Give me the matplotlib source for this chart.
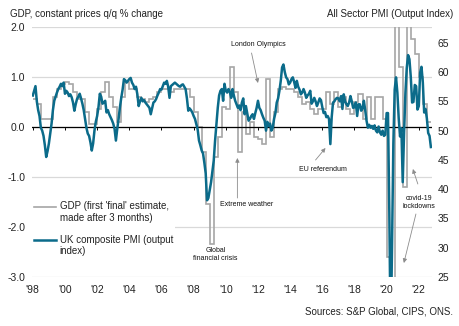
import numpy as np
import matplotlib
matplotlib.use("Agg")
import matplotlib.pyplot as plt

plt.rcParams['font.family'] = ['Liberation Sans', 'DejaVu Sans']

# UK GDP q/q % change, first 'final' estimate, quarterly from 1998 Q1
gdp = [0.55, 0.45, 0.15, 0.15,
       0.15, 0.6, 0.75, 0.85,
       0.9, 0.85, 0.7, 0.55,
       0.55, 0.3, 0.05, 0.05,
       0.35, 0.7, 0.9, 0.6,
       0.4, 0.1, 0.6, 0.9,
       0.75, 0.75, 0.6, 0.55,
       0.5, 0.55, 0.6, 0.7,
       0.75, 0.75, 0.7, 0.75,
       0.75, 0.75, 0.75, 0.6,
       0.3, 0.0, -0.5, -1.55,
       -2.35, -0.6, -0.2, 0.4,
       0.35, 1.2, 0.7, -0.5,
       0.3, -0.15, 0.1, -0.2,
       -0.25, -0.35, 0.95, -0.2,
       0.3, 0.75, 0.8, 0.75,
       0.75, 0.7, 0.6, 0.45,
       0.5, 0.35, 0.25, 0.35,
       0.35, 0.7, 0.45, 0.7,
       0.4, 0.6, 0.35, 0.25,
       0.5, 0.65, 0.15, 0.6,
       0.15, 0.6, 0.6, 0.15,
       -2.6, -20.0, 15.5, 1.2,
       -1.2, 4.8, 1.75, 1.45,
       1.0, 0.45, 0.1]

# UK composite PMI output index, monthly from Jan 1998
pmi = [56.0, 56.8, 57.6, 55.0, 53.5, 52.5, 50.5, 50.0, 49.1, 47.5, 45.5, 46.5,
       47.8, 49.5, 51.2, 53.5, 55.1, 55.8, 56.5, 57.1, 57.5, 58.0, 57.6, 58.2,
       56.3, 56.8, 56.5, 55.9, 56.2, 55.7, 54.8, 53.4, 54.5, 55.4, 55.8, 56.3,
       55.5, 54.6, 53.5, 52.0, 50.5, 49.5, 49.1, 48.0, 46.6, 47.8, 50.0, 51.5,
       52.5, 54.0, 56.3, 55.8, 54.6, 54.8, 55.1, 53.1, 53.5, 52.8, 52.3, 51.8,
       51.2, 50.3, 48.3, 50.3, 52.0, 54.0, 55.6, 57.0, 58.8, 58.6, 58.2, 58.5,
       58.8, 59.0, 58.2, 57.8, 57.1, 57.5, 56.2, 54.2, 55.0, 55.6, 55.0, 55.2,
       54.8, 54.5, 54.2, 53.9, 52.8, 53.8, 54.8, 55.0, 55.4, 56.0, 56.5, 57.1,
       57.0, 57.6, 58.2, 58.0, 58.5, 57.5, 55.6, 57.6, 57.8, 58.0, 58.2, 58.0,
       57.8, 57.6, 57.5, 57.8, 57.9, 57.5, 57.1, 55.5, 53.4, 53.8, 53.5, 53.1,
       52.5, 52.0, 51.1, 50.2, 48.3, 47.5, 46.6, 46.1, 44.5, 42.7, 38.1, 38.5,
       39.8, 41.2, 43.0, 44.9, 48.3, 51.1, 53.9, 56.0, 56.8, 57.1, 55.1, 58.0,
       56.8, 56.5, 57.1, 56.6, 55.6, 57.1, 56.0, 55.1, 54.5, 53.9, 54.3, 53.5,
       54.8, 55.5, 52.8, 54.2, 53.0, 51.7, 52.0, 52.5, 52.8, 52.0, 53.0, 53.9,
       55.1, 53.9, 53.5, 52.8, 52.2, 51.7, 50.0, 51.5, 50.8, 51.2, 50.0, 50.5,
       52.0, 53.0, 54.8, 55.5, 56.8, 58.5, 60.8, 61.3, 60.0, 59.1, 58.8, 57.9,
       58.2, 58.8, 59.1, 58.3, 57.3, 58.5, 57.5, 57.0, 56.2, 56.5, 57.1, 56.5,
       55.6, 56.0, 56.3, 56.8, 54.6, 55.0, 55.6, 55.0, 54.2, 54.8, 55.5, 55.2,
       54.0, 53.0, 53.2, 52.3, 52.5, 52.0, 47.7, 52.3, 54.8, 55.0, 55.4, 55.6,
       55.5, 55.0, 55.9, 53.7, 56.2, 55.0, 54.5, 54.2, 54.8, 55.9, 55.0, 53.9,
       54.0, 54.8, 52.5, 54.5, 54.5, 53.4, 53.8, 55.1, 53.5, 51.7, 50.5, 51.0,
       50.5, 50.8, 50.3, 50.9, 50.0, 49.7, 50.7, 49.7, 49.3, 50.0, 49.1, 49.3,
       53.0, 53.0, 36.0, 13.8, 30.0, 47.7, 57.0, 59.1, 56.5, 52.1, 49.0, 50.4,
       41.2, 49.6, 56.4, 60.7, 62.9, 62.2, 59.2, 54.8, 54.9, 57.8, 57.6, 53.6,
       54.2, 59.9, 60.9, 58.2, 53.1, 53.7, 52.1, 49.6, 49.1, 47.2]

year_ticks = list(range(1998, 2023, 2))
year_labels = ["'%02d" % (y % 100) for y in year_ticks]
gdp_ticks = [-3.0, -2.0, -1.0, 0.0, 1.0, 2.0]
pmi_ticks = [25, 30, 35, 40, 45, 50, 55, 60, 65]

gdp_edges = 1998 + np.arange(len(gdp) + 1) / 4
pmi_dates = 1998 + np.arange(len(pmi)) / 12

GREY = '#a6a6a6'
TEAL = '#0b6b8a'
TXT = '#222222'
ARROW = '#8c8c8c'

fig = plt.figure(figsize=(4.6, 3.26), dpi=100)
ax = fig.add_axes([32 / 460, 1 - 277 / 326, 400 / 460, 250 / 326])
ax2 = ax.twinx()

# GDP steps on the left axis
gdp_line = ax.stairs(gdp, gdp_edges, color=GREY, linewidth=1.2, baseline=None,
                     label="GDP (first 'final' estimate,\nmade after 3 months)")
ax.set_ylim(-3.0, 2.0)
ax.set_xlim(1997.95, 2022.82)
ax.set_yticks(gdp_ticks)
ax.set_yticklabels(['%.1f' % v for v in gdp_ticks])
ax.yaxis.grid(True, color='#d9d9d9', linewidth=0.9)
ax.set_axisbelow(True)
ax.axhline(0, color='black', linewidth=0.9, zorder=1.5)
ax.set_xticks(year_ticks)
ax.set_xticklabels(year_labels)
ax.tick_params(axis='both', length=0, labelsize=7.5, colors=TXT)
ax.tick_params(axis='x', pad=6)
ax.tick_params(axis='y', pad=5)
for s in ax.spines.values():
    s.set_visible(False)

# small year ticks hanging off the zero line
zero_frac = (0 - (-3.0)) / 5.0
sec = ax.secondary_xaxis(zero_frac)
sec.set_xticks(year_ticks)
sec.tick_params(axis='x', direction='out', length=2.5, width=0.7,
                color='black', labelbottom=False, labeltop=False)
sec.spines['bottom'].set_visible(False)
sec.spines['top'].set_visible(False)
sec.xaxis.set_ticks_position('bottom')
sec.set_xticklabels([])

# PMI on the right axis
pmi_line, = ax2.plot(pmi_dates, pmi, color=TEAL, linewidth=1.8,
                     label="UK composite PMI (output\nindex)")
ax2.set_ylim(25, 67.7)
ax2.set_yticks(pmi_ticks)
ax2.tick_params(axis='y', length=0, labelsize=7.5, colors=TXT, pad=4)
for s in ax2.spines.values():
    s.set_visible(False)

leg = ax2.legend(handles=[gdp_line, pmi_line], loc='upper left',
                 bbox_to_anchor=(0.0, 0.31), fontsize=7, frameon=True,
                 facecolor='white', edgecolor='none', framealpha=1,
                 fancybox=False, borderpad=0.2, borderaxespad=0,
                 handlelength=2.3, handletextpad=0.35, labelspacing=1.2)
for t in leg.get_texts():
    t.set_color(TXT)
# lift the handles onto the first line of each label
for h in leg.legend_handles:
    if hasattr(h, 'get_ydata'):
        h.set_ydata(np.asarray(h.get_ydata()) + 4.2)
for h in leg.legend_handles:
    if not hasattr(h, 'get_ydata'):
        h.set_transform(matplotlib.transforms.Affine2D().translate(0, 4.2) + h.get_transform())

# event annotations
note = dict(fontsize=5, color='#111111', ha='center', va='center')
arr = dict(arrowstyle='-|>', color=ARROW, lw=0.6, mutation_scale=6,
           shrinkA=0, shrinkB=0)

ax.text(2012.03, 1.64, 'London Olympics', **note)
ax.annotate('', xy=(2012.0, 0.88), xytext=(2011.6, 1.48), arrowprops=arr)

ax.text(2011.28, -1.56, 'Extreme weather', **note)
ax.annotate('', xy=(2010.72, -0.62), xytext=(2010.72, -1.42), arrowprops=arr)

ax.text(2009.35, -2.55, 'Global\nfinancial crisis', linespacing=1.1, **note)

ax.text(2016.02, -0.86, 'EU referendum', **note)
ax.annotate('', xy=(2016.2, -0.42), xytext=(2015.58, -0.66), arrowprops=arr)

ax.text(2022.0, -1.52, 'covid-19\nlockdowns', linespacing=1.2, **note)
ax.annotate('', xy=(2021.63, -0.84), xytext=(2021.94, -1.14), arrowprops=arr)
ax.annotate('', xy=(2021.07, -2.72), xytext=(2021.82, -1.74), arrowprops=arr)

fig.text(10 / 460, 1 - 14 / 326, 'GDP, constant prices q/q % change',
         fontsize=7, color=TXT, ha='left', va='center')
fig.text(453 / 460, 1 - 14 / 326, 'All Sector PMI (Output Index)',
         fontsize=7, color=TXT, ha='right', va='center')
fig.text(453 / 460, 1 - 312 / 326, 'Sources: S&P Global, CIPS, ONS.',
         fontsize=7, color=TXT, ha='right', va='center')

fig.savefig('out.png', dpi=100)
